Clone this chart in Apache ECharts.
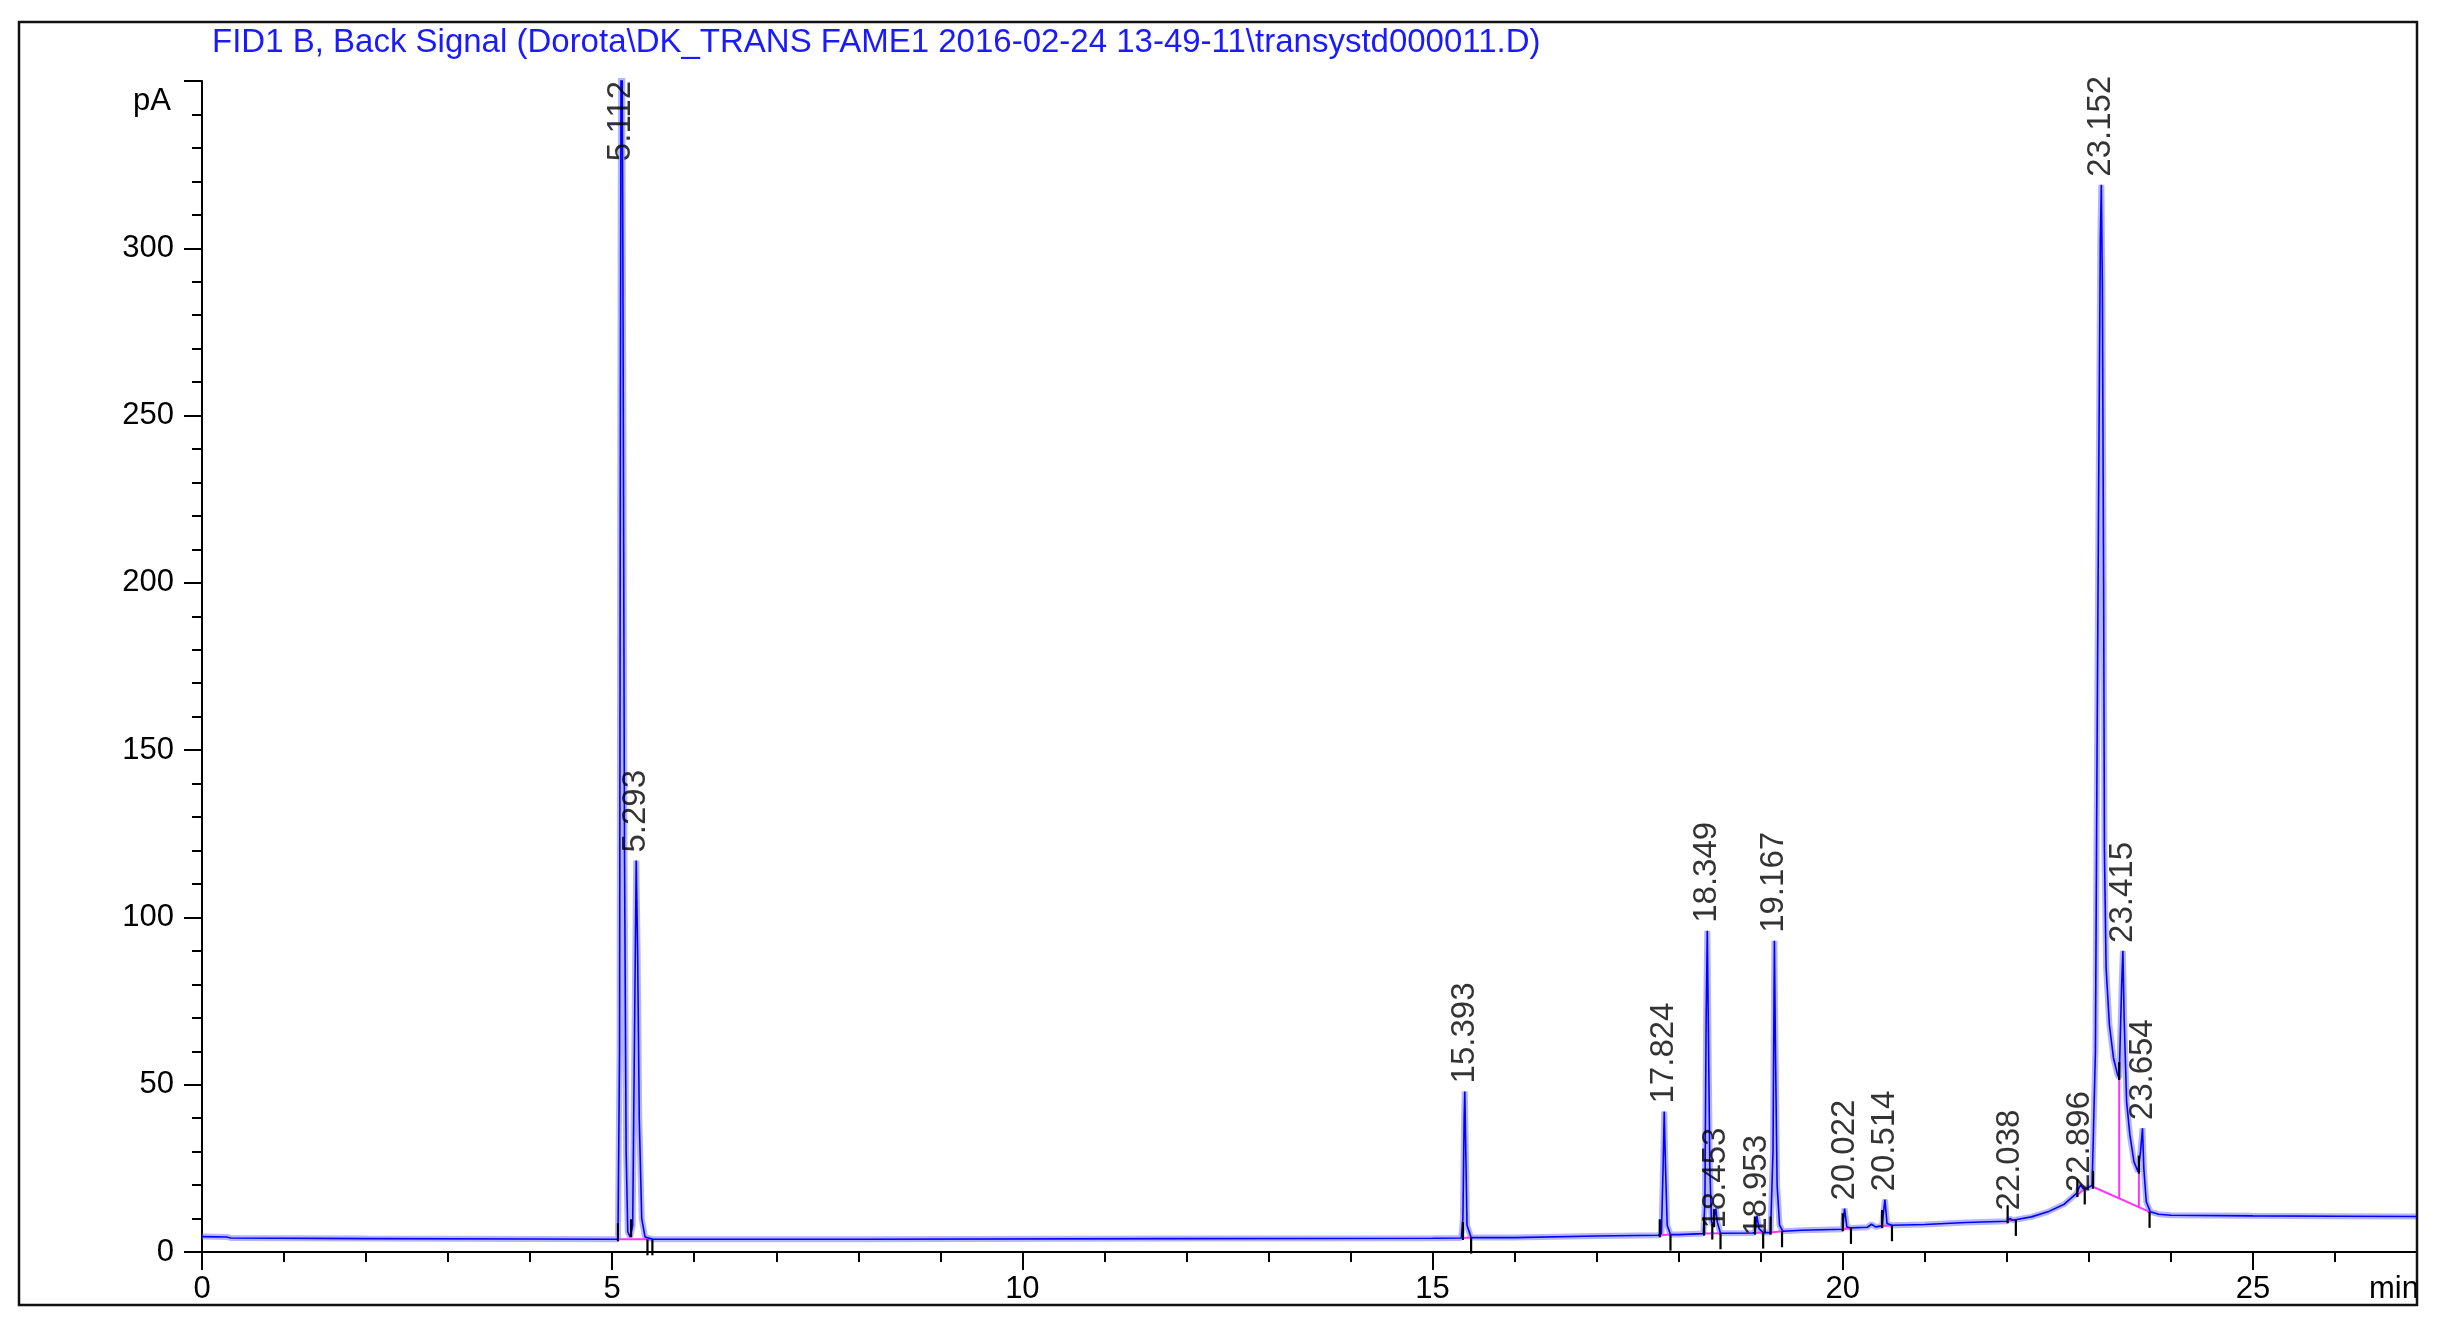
<!DOCTYPE html>
<html>
<head>
<meta charset="utf-8">
<script src="https://cdn.jsdelivr.net/npm/echarts@6/dist/echarts.min.js"></script>
<style>
html,body{margin:0;padding:0;background:#fff;}
#chart{width:2442px;height:1335px;}
</style>
</head>
<body>
<div id="chart"></div>
<script>
// ---- data ----
const titleText = 'FID1 B, Back Signal (Dorota\\DK_TRANS FAME1 2016-02-24 13-49-11\\transystd000011.D)';

// signal trace: retention time (min) and detector signal (pA)
const timeMin = [
  0.00, 0.30, 0.35, 2.00, 4.00, 5.00, 5.07, 5.09, 5.10, 5.112, 5.13, 5.15, 5.17, 5.19, 5.22,
  5.25, 5.27, 5.293, 5.31, 5.33, 5.36, 5.40, 5.50, 8.00, 12.00, 15.00, 15.35, 15.37, 15.385,
  15.393, 15.405, 15.42, 15.47, 16.00, 17.00, 17.75, 17.79, 17.81, 17.824, 17.84, 17.86, 17.90,
  18.00, 18.30, 18.32, 18.335, 18.349, 18.365, 18.38, 18.40, 18.42, 18.453, 18.47, 18.51,
  18.90, 18.93, 18.953, 18.98, 19.03, 19.12, 19.15, 19.167, 19.18, 19.20, 19.23, 19.27,
  19.50, 20.00, 20.022, 20.05, 20.10, 20.30, 20.35, 20.40, 20.48, 20.514, 20.54, 20.60,
  21.00, 21.50, 22.00, 22.038, 22.07, 22.30, 22.50, 22.70, 22.85, 22.896, 22.93, 22.98,
  23.04, 23.08, 23.10, 23.12, 23.14, 23.152, 23.165, 23.18, 23.19, 23.21, 23.25, 23.30,
  23.35, 23.37, 23.40, 23.415, 23.43, 23.46, 23.50, 23.55, 23.60, 23.63, 23.654, 23.67,
  23.70, 23.75, 23.85, 24.00, 25.00, 26.00, 27.00
];
const signalPA = [
  4.6, 4.5, 4.2, 4.0, 3.9, 3.8, 3.8, 60, 250, 420, 300, 120, 30, 6, 4.5,
  8, 60, 117, 90, 40, 10, 4.5, 3.8, 3.8, 4.0, 4.1, 4.2, 10, 40,
  48, 30, 8, 4.3, 4.3, 4.8, 5.0, 5.5, 25, 42, 25, 8, 5.2,
  5.2, 5.5, 15, 70, 96, 60, 25, 9, 8, 13, 9, 5.6,
  5.7, 5.8, 10.8, 7, 5.8, 5.8, 30, 93, 60, 20, 8, 6.2,
  6.5, 6.8, 13, 7.5, 7.2, 7.4, 8.3, 7.5, 7.8, 15.7, 8.5, 8.0,
  8.2, 8.8, 9.2, 10, 9.5, 10.5, 12, 14.3, 17.5, 20.0, 19, 19,
  20, 60, 150, 230, 303, 319, 288, 200, 120, 85, 68, 58,
  53, 52, 80, 90, 70, 45, 35, 27, 24, 30, 37, 25,
  15, 12, 11.3, 11, 10.8, 10.7, 10.6
];

// integrated peaks: retention time label and apex height (pA)
const peakNames = ['5.112', '5.293', '15.393', '17.824', '18.349', '18.453', '18.953', '19.167',
                   '20.022', '20.514', '22.038', '22.896', '23.152', '23.415', '23.654'];
const peakTimes = [5.112, 5.293, 15.393, 17.824, 18.349, 18.453, 18.953, 19.167,
                   20.022, 20.514, 22.038, 22.896, 23.152, 23.415, 23.654];
const peakApex  = [350, 117, 48, 42, 96, 13, 10.8, 93, 13, 15.7, 10, 20.0, 319, 90, 37];

// integration event marks: time, signal level, kind (1 = start/valley, -1 = end)
const markTimes  = [5.07, 5.23, 5.43, 5.49, 15.37, 15.47, 17.77, 17.90, 18.31, 18.41, 18.43, 18.51,
                    18.93, 19.03, 19.12, 19.26, 20.00, 20.10, 20.48, 20.60, 22.01, 22.11,
                    22.86, 22.95, 23.05, 23.37, 23.61, 23.74];
const markLevels = [3.8, 5.0, 3.8, 3.8, 4.2, 4.3, 5.0, 5.2, 5.5, 8.5, 8.0, 5.6,
                    5.8, 5.8, 5.8, 6.2, 6.8, 7.2, 7.8, 8.0, 9.2, 9.6,
                    17.0, 19.0, 19.5, 52, 24, 12];
const markKinds  = [1, 1, -1, -1, 1, -1, 1, -1, 1, -1, 1, -1,
                    1, -1, 1, -1, 1, -1, 1, -1, 1, -1,
                    1, -1, 1, 1, 1, -1];

// integration baselines and drop lines: from (t1,v1) to (t2,v2)
const baseT1 = [5.07, 15.37, 17.77, 18.31, 18.93, 19.12, 20.00, 20.48, 22.01, 22.86, 23.05, 23.37, 23.61];
const baseV1 = [3.8, 4.2, 5.0, 5.5, 5.7, 5.8, 6.8, 7.8, 9.2, 17.0, 19.5, 52, 24];
const baseT2 = [5.49, 15.47, 17.90, 18.51, 19.03, 19.26, 20.10, 20.60, 22.11, 22.95, 23.74, 23.37, 23.61];
const baseV2 = [3.8, 4.3, 5.2, 5.6, 5.8, 6.2, 7.2, 8.0, 9.6, 19.0, 12.0, 16.0, 13.2];

// axes
const xMin = 0, xMax = 27, xStep = 5;
const yMin = 0, yMax = 350, yStep = 50;
const yUnit = 'pA', xUnit = 'min';

// ---- chart ----
const FONT = '"Liberation Sans", Arial, sans-serif';
const chart = echarts.init(document.getElementById('chart'), null, {renderer: 'canvas'});

const traceData = timeMin.map((t, i) => [t, signalPA[i]]);
const peakData = peakTimes.map((t, i) => {
  const item = {name: peakNames[i], value: [t, peakApex[i]]};
  if (i === 0) {
    item.label = {position: 'inside', align: 'right'};
  } else if (peakNames[i] === '18.453' || peakNames[i] === '18.953') {
    item.label = {distance: -20};
  } else if (peakNames[i] === '22.896') {
    item.label = {distance: -7};
  }
  return item;
});
const markData = markTimes.map((t, i) => [t, markLevels[i], markKinds[i]]);
const baseData = baseT1.map((t, i) => [t, baseV1[i], baseT2[i], baseV2[i]]);

const option = {
  animation: false,
  backgroundColor: '#fff',
  title: {
    text: titleText,
    left: 212, top: 26, padding: 0,
    textStyle: {color: '#1a1aff', fontFamily: FONT, fontSize: 33, fontWeight: 'normal'}
  },
  grid: {left: 202, right: 25, top: 81, bottom: 83, containLabel: false},
  xAxis: {
    type: 'value', min: xMin, max: xMax, interval: xStep,
    axisLine: {onZero: false, lineStyle: {color: '#000', width: 2}},
    axisTick: {show: true, inside: false, length: 18, lineStyle: {color: '#000', width: 2}},
    minorTick: {show: true, splitNumber: 5, length: 10, lineStyle: {color: '#000', width: 2}},
    splitLine: {show: false},
    axisLabel: {
      margin: 22, color: '#000', fontFamily: FONT, fontSize: 31,
      formatter: v => v === xMax ? '{u|' + xUnit + '}' : String(v),
      rich: {u: {fontFamily: FONT, fontSize: 31, color: '#000', padding: [0, 46, 0, 0]}}
    }
  },
  yAxis: {
    type: 'value', min: yMin, max: yMax, interval: yStep,
    name: yUnit, nameLocation: 'end', nameGap: -20,
    nameTextStyle: {color: '#000', fontFamily: FONT, fontSize: 31, align: 'right', verticalAlign: 'middle', padding: [0, 31, 0, 0]},
    axisLine: {lineStyle: {color: '#000', width: 2}},
    axisTick: {show: true, inside: false, length: 18, lineStyle: {color: '#000', width: 2}},
    minorTick: {show: true, splitNumber: 5, length: 10, lineStyle: {color: '#000', width: 2}},
    splitLine: {show: false},
    axisLabel: {
      margin: 28, color: '#000', fontFamily: FONT, fontSize: 31,
      formatter: v => v === yMax ? '' : String(v)
    }
  },
  series: [
    {
      type: 'line', data: traceData, showSymbol: false, silent: true, z: 1,
      lineStyle: {color: 'rgba(110,110,255,0.5)', width: 6}, clip: true
    },
    {
      type: 'custom', z: 2, clip: true, silent: true,
      data: baseData,
      renderItem: (params, api) => {
        const a = api.coord([api.value(0), api.value(1)]);
        const b = api.coord([api.value(2), api.value(3)]);
        return {type: 'line', shape: {x1: a[0], y1: a[1], x2: b[0], y2: b[1]},
                style: {stroke: '#ff33ff', lineWidth: 2}};
      }
    },
    {
      type: 'line', data: traceData, showSymbol: false, silent: true, z: 3,
      lineStyle: {color: '#0000ff', width: 1.6}, clip: true
    },
    {
      type: 'custom', z: 4, clip: false, silent: true,
      data: markData,
      renderItem: (params, api) => {
        const p = api.coord([api.value(0), api.value(1)]);
        const k = api.value(2);
        return {type: 'line', shape: {x1: p[0], y1: p[1] + (k > 0 ? 2 : 0), x2: p[0], y2: p[1] - k * 16},
                style: {stroke: '#000', lineWidth: 2.2}};
      }
    },
    {
      type: 'scatter', z: 5, symbolSize: 0, clip: false, silent: true,
      data: peakData,
      label: {
        show: true, position: 'top', distance: 8, rotate: 90,
        align: 'left', verticalAlign: 'middle',
        formatter: p => p.name,
        color: '#000', fontFamily: FONT, fontSize: 33
      }
    }
  ],
  graphic: [
    {
      type: 'rect', z: 100, silent: true,
      shape: {x: 19, y: 22, width: 2398, height: 1283},
      style: {fill: 'none', stroke: '#111', lineWidth: 2.5}
    }
  ]
};
chart.setOption(option);
</script>
</body>
</html>
